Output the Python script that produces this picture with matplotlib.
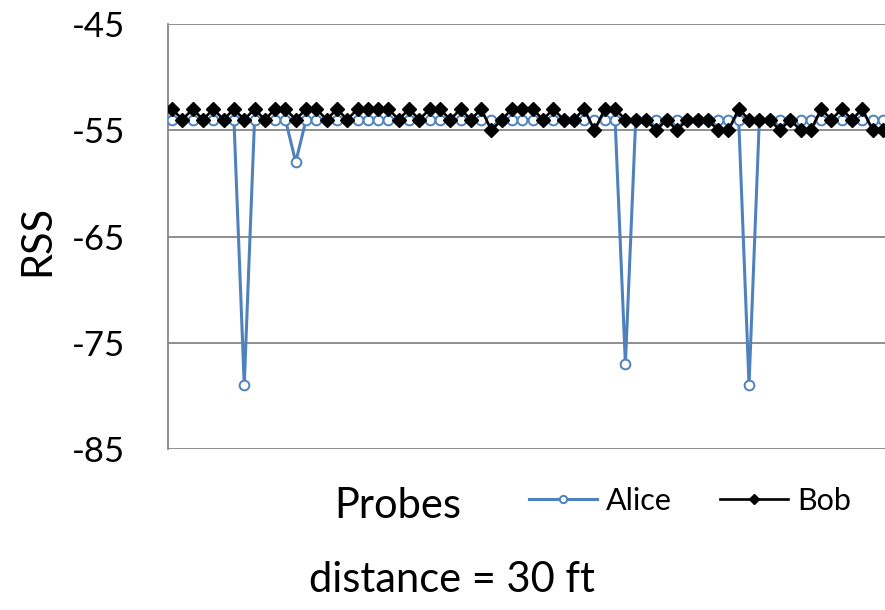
import matplotlib
matplotlib.use('Agg')
import matplotlib.pyplot as plt

plt.rcParams['font.family'] = ['Lato', 'DejaVu Sans']

# RSS readings per probe (only the visible part of the chart)
alice = [-54, -54, -54, -54, -54, -54, -54, -79, -54, -54,
         -54, -54, -58, -54, -54, -54, -54, -54, -54, -54,
         -54, -54, -54, -54, -54, -54, -54, -54, -54, -54,
         -54, -54, -54, -54, -54, -54, -54, -54, -54, -54,
         -54, -54, -54, -54, -77, -54, -54, -54, -54, -54,
         -54, -54, -54, -54, -54, -54, -79, -54, -54, -54,
         -54, -54, -54, -54, -54, -54, -54, -54, -54, -54]
bob = [-53, -54, -53, -54, -53, -54, -53, -54, -53, -54,
       -53, -53, -54, -53, -53, -54, -53, -54, -53, -53,
       -53, -53, -54, -53, -54, -53, -53, -54, -53, -54,
       -53, -55, -54, -53, -53, -53, -54, -53, -54, -54,
       -53, -55, -53, -53, -54, -54, -54, -55, -54, -55,
       -54, -54, -54, -55, -55, -53, -54, -54, -54, -55,
       -54, -55, -55, -53, -54, -53, -54, -53, -55, -55]
probes = list(range(len(bob)))
yticks = [-85, -75, -65, -55, -45]

fig = plt.figure(figsize=(8.85, 6.1), dpi=100)
ax = fig.add_axes([168 / 885, 1 - 449 / 610, 1 - 168 / 885, (449 - 24) / 610])

ax.plot(probes, alice, color='#4F81BD', lw=2.2, marker='o', ms=7,
        mfc='white', mec='#4F81BD', mew=1.4, label='Alice', zorder=3)
ax.plot(probes, bob, color='black', lw=1.9, marker='D', ms=7,
        label='Bob', zorder=4)

ax.set_xlim(-0.4, 69.2)
ax.set_ylim(-85, -45)
ax.set_yticks(yticks)
ax.set_yticklabels([str(v) for v in yticks], fontsize=25)
ax.set_xticks([])
ax.tick_params(axis='y', length=0, pad=31)
ax.grid(axis='y', color='#868686', lw=1.3)
ax.set_axisbelow(True)
for s in ['top', 'right', 'bottom']:
    ax.spines[s].set_visible(False)
ax.spines['left'].set_color('#868686')
ax.spines['left'].set_linewidth(1.3)

fig.text(37 / 885, 1 - 240 / 610, 'RSS', rotation=90, fontsize=30,
         ha='center', va='center')
fig.text(398 / 885, 1 - 506 / 610, 'Probes', fontsize=30,
         ha='center', va='center')
fig.legend(loc='center', bbox_to_anchor=(690 / 885, 1 - 501 / 610), ncol=2,
           frameon=False, fontsize=22, handlelength=2.2, handletextpad=0.3,
           columnspacing=1.6, markerscale=0.75)
fig.text(452 / 885, 1 - 580 / 610, 'distance = 30 ft', fontsize=30,
         ha='center', va='center')

fig.savefig('out.png', dpi=100)
